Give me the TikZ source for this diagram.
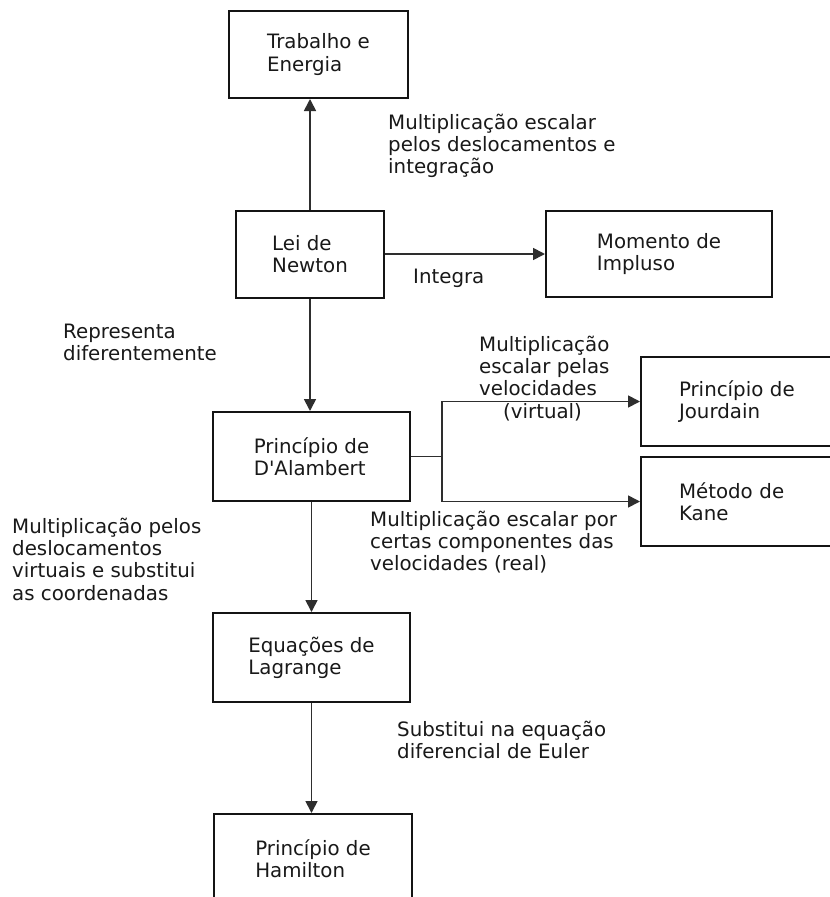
\documentclass[tikz,border=0pt]{standalone}
\usepackage{fontspec}
\setmainfont{DejaVu Sans}[Ligatures=TeXOff]
\usetikzlibrary{arrows.meta}
\begin{document}
\begin{tikzpicture}[x=1pt,y=-1pt,
  every node/.style={font=\fontsize{19.8}{22.2}\selectfont, text=black!90},
  box/.style={draw=black!92, line width=2pt, align=left, inner sep=0pt},
  sidebox/.style={box, text width=150pt, inner xsep=38pt, inner ysep=0pt, minimum height=89pt},
  lbl/.style={align=left, inner sep=0pt, anchor=north west},
  link/.style={draw=black!82, line width=1.7pt},
  arr/.style={link, -{Triangle[length=12pt,width=12pt]}},
]
\useasboundingbox (0,0) rectangle (830,897);
\clip (0,0) rectangle (830,897);
\fill[white] (0,0) rectangle (830,897);

% boxes
\node[box, minimum width=179pt, minimum height=87pt] (trab) at (318.5,54.5) {Trabalho e\\Energia};
\node[box, minimum width=148pt, minimum height=87pt] (lei) at (310,254.5) {Lei de\\Newton};
\node[box, minimum width=226pt, minimum height=86pt] (mom) at (659,254) {Momento de\\Impluso};
\node[box, minimum width=197pt, minimum height=89pt] (dal) at (311.5,456.5) {Princípio de\\D'Alambert};
\node[sidebox] (jour) at (754,401.5) {Princípio de\\Jourdain};
\node[sidebox] (kane) at (754,501.5) {Método de\\Kane};
\node[box, minimum width=197pt, minimum height=89pt] (lag) at (311.5,657.5) {Equações de\\Lagrange};
\node[box, minimum width=198pt, minimum height=89pt] (ham) at (313,858.5) {Princípio de\\Hamilton};

% connectors
\draw[arr] (lei.north) -- (lei.north |- trab.south);
\draw[arr] (lei.east |- mom.west) -- (mom.west);
\draw[arr] (lei.south) -- (lei.south |- dal.north);
\coordinate (fork) at (442,456.5);
\draw[link] (dal.east) -- (fork);
\draw[arr] (fork) |- (jour.west);
\draw[arr] (fork) |- (kane.west);
\draw[arr] (dal.south) -- (dal.south |- lag.north);
\draw[arr] (lag.south) -- (lag.south |- ham.north);

% labels
\node[lbl] (ltop) at (388,114) {Multiplicação escalar\\pelos deslocamentos e\\integração};
\node[lbl] (lint) at (413,269) {Integra};
\node[lbl] (lrep) at (63,324) {Representa\\diferentemente};
\node[lbl] (ljour) at (479,336) {Multiplicação\\escalar pelas\\velocidades\\\hspace*{24pt}(virtual)};
\node[lbl] (lkane) at (370,511) {Multiplicação escalar por\\certas componentes das\\velocidades (real)};
\node[lbl] (lvirt) at (12,518) {Multiplicação pelos\\deslocamentos\\virtuais e substitui\\as coordenadas};
\node[lbl] (leuler) at (397,721) {Substitui na equação\\diferencial de Euler};
\end{tikzpicture}
\end{document}
